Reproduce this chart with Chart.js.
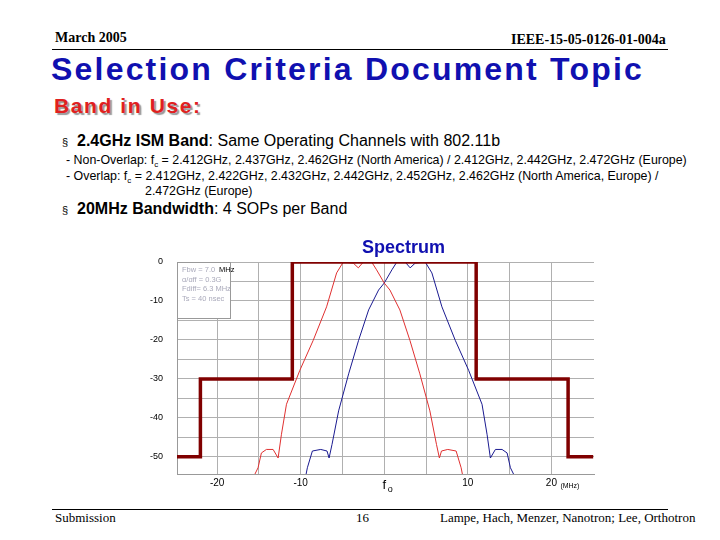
<!DOCTYPE html>
<html><head><meta charset="utf-8">
<script src="https://cdn.jsdelivr.net/npm/chart.js@4"></script>
<style>
body{margin:0;width:720px;height:540px;position:relative;background:#fff;font-family:"Liberation Sans",Arial,sans-serif;overflow:hidden}
.a{position:absolute;white-space:nowrap}
.serif{font-family:"Liberation Serif","Times New Roman",serif}
</style></head><body>
<div class="a serif" style="left:55px;top:30px;font-size:14px;font-weight:bold">March 2005</div>
<div class="a serif" style="left:511px;top:32px;font-size:14px;font-weight:bold">IEEE-15-05-0126-01-004a</div>
<div class="a" style="left:52px;top:49px;width:616px;border-top:1px solid #000"></div>
<div class="a" style="left:51px;top:51px;font-size:32px;letter-spacing:2.2px;font-weight:bold;color:#1010b0">Selection Criteria Document Topic</div>
<div class="a" style="left:54px;top:94px;font-size:21px;letter-spacing:1.6px;font-weight:bold;color:#e02020;text-shadow:2px 2px 1px #999">Band in Use:</div>
<div class="a" style="left:62px;top:132px;font-size:16px"><span style="color:#000;font-size:11px">§</span>&nbsp; <b>2.4GHz ISM Band</b>: Same Operating Channels with 802.11b</div>
<div class="a" style="left:66px;top:153px;font-size:12.4px">- Non-Overlap: f<sub style="font-size:8px">c</sub> = 2.412GHz, 2.437GHz, 2.462GHz (North America) / 2.412GHz, 2.442GHz, 2.472GHz (Europe)</div>
<div class="a" style="left:66px;top:169px;font-size:12.4px">- Overlap: f<sub style="font-size:8px">c</sub> = 2.412GHz, 2.422GHz, 2.432GHz, 2.442GHz, 2.452GHz, 2.462GHz (North America, Europe) /</div>
<div class="a" style="left:145px;top:184px;font-size:12.4px">2.472GHz (Europe)</div>
<div class="a" style="left:62px;top:200px;font-size:16px"><span style="font-size:11px">§</span>&nbsp; <b>20MHz Bandwidth</b>: 4 SOPs per Band</div>
<div class="a" style="left:52px;top:509px;width:616px;border-top:1px solid #000"></div>
<div class="a serif" style="left:55px;top:510px;font-size:13px">Submission</div>
<div class="a serif" style="left:356px;top:510px;font-size:13px">16</div>
<div class="a serif" style="left:440px;top:510px;font-size:13px">Lampe, Hach, Menzer, Nanotron; Lee, Orthotron</div>
<canvas id="c" class="a" style="left:120px;top:232px;width:490px;height:264px"></canvas>
<script>
const maskX=[-25,-22,-22,-11,-11,11,11,22,22,25];
const maskY=[-50,-50,-30,-30,0,0,-30,-30,-50,-50];
const blueX=[-9.44,-9.2,-8.6,-7.6,-6.85,-6.6,-6.25,-5.46,-4.26,-3.07,-1.87,-0.68,0,0.92,1.51,2.5,3.1,3.7,4.9,5.7,6.9,8.5,10.1,11.7,12.3,12.7,13.3,14.1,14.7,15.1,15.7];
const blueY=[-55.4,-52.8,-48.5,-48.1,-48.5,-50.3,-46.8,-38.2,-28.7,-20.1,-12.3,-7.2,-5.4,-2,0,0,-1.5,-0.3,0,-2.8,-11.5,-20.1,-27.8,-36.5,-44.2,-50.3,-48.1,-48.1,-49,-52.8,-55.4];
const redX=[-15.7,-15.1,-14.7,-14.1,-13.3,-12.7,-12.3,-11.7,-10.1,-8.5,-6.9,-5.7,-4.9,-3.7,-3.1,-2.5,-1.51,-0.92,0,0.68,1.87,3.07,4.26,5.46,6.25,6.6,6.85,7.6,8.6,9.2,9.44];
const redY=[-55.4,-52.8,-49,-48.1,-48.1,-50.3,-44.2,-36.5,-27.8,-20.1,-11.5,-2.8,0,-0.3,-1.5,0,0,-2,-5.4,-7.2,-12.3,-20.1,-28.7,-38.2,-46.8,-50.3,-48.5,-48.1,-48.5,-52.8,-55.4];
const xLabels={"-20":"-20","-10":"-10","10":"10","20":"20"};
const pts=(xs,ys)=>xs.map((x,i)=>({x,y:ys[i]}));
const deco={id:'deco',afterDraw(ch){
 const c=ch.ctx,a=ch.chartArea,xs=ch.scales.x;
 c.save();
 c.fillStyle='#1010b0';c.font='bold 18px "Liberation Sans",Arial';c.textAlign='center';
 c.fillText('Spectrum',(a.left+a.right)/2+18,a.top-9);
 c.fillStyle='#000';
 const y0=a.bottom+14;
 c.font='13px "Liberation Sans",Arial';c.fillText('f',xs.getPixelForValue(0),y0+1);
 c.font='9px "Liberation Sans",Arial';c.fillText('o',xs.getPixelForValue(0)+6,y0+4);
 c.font='7px "Liberation Sans",Arial';c.textAlign='left';c.fillText('(MHz)',xs.getPixelForValue(20)+9,y0);
 c.strokeStyle='#999';c.lineWidth=1;c.strokeRect(a.left+0.5,a.top+0.5,53,56);
 c.fillStyle='#fff';c.fillRect(a.left+1,a.top+1,52,55);
 c.font='7.5px "Liberation Sans",Arial';c.fillStyle='#aab';
 ['Fbw = 7.0','α/ɑff = 0.3G','Fdiff= 6.3 MHz','Ts = 40 nsec'].forEach((t,i)=>c.fillText(t,a.left+5,a.top+10+i*9.5));
 c.fillStyle='#000';c.fillText('MHz',a.left+42,a.top+10);
 c.restore();
}};
new Chart(document.getElementById('c'),{type:'scatter',
 data:{datasets:[
  {data:pts(maskX,maskY),showLine:true,borderColor:'#800000',borderWidth:3.5,pointRadius:0},
  {data:pts(redX,redY),showLine:true,borderColor:'#e03030',borderWidth:1,pointRadius:0},
  {data:pts(blueX,blueY),showLine:true,borderColor:'#1a1a90',borderWidth:1,pointRadius:0}]},
 options:{responsive:false,animation:false,devicePixelRatio:1,
  layout:{padding:{top:30,right:16,left:0,bottom:0}},
  plugins:{legend:{display:false},tooltip:{enabled:false}},
  scales:{
   x:{type:'linear',min:-24.8,max:25.1,afterBuildTicks(s){s.ticks=[-20,-15,-10,-5,0,5,10,15,20].map(v=>({value:v}));},
     ticks:{autoSkip:false,maxRotation:0,color:'#000',font:{size:10},callback:v=>xLabels[v]||''},
     grid:{color:'#b0b0b0',drawTicks:false},border:{color:'#999'},afterFit(s){s.height=22;}},
   y:{min:-54.4,max:0,afterBuildTicks(s){s.ticks=[0,-5,-10,-15,-20,-25,-30,-35,-40,-45,-50].map(v=>({value:v}));},
     ticks:{autoSkip:false,color:'#000',font:{size:9},padding:14,callback:v=>v%10===0?String(v):''},
     grid:{color:'#b0b0b0',drawTicks:false},border:{color:'#999'},afterFit(s){s.width=57;}}
  }},
 plugins:[deco]});
</script></body></html>
